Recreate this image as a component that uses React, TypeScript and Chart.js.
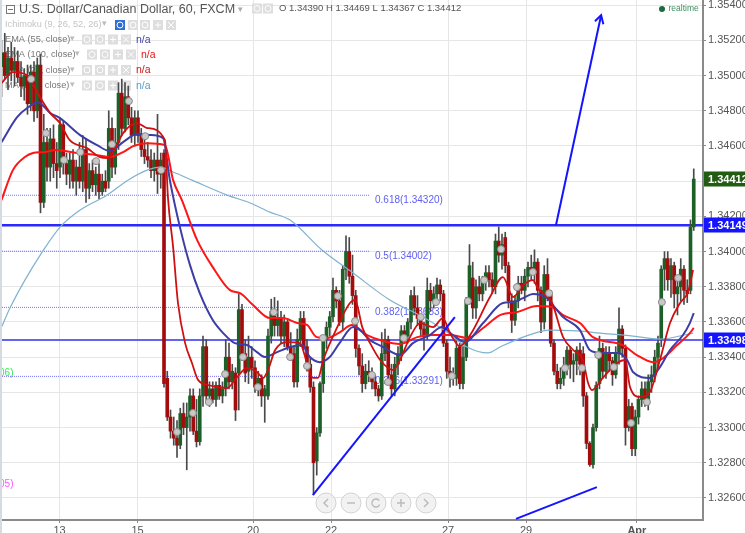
import React, { useEffect, useRef } from "react";
import { Chart, registerables } from "chart.js";

Chart.register(...registerables);

const opens = [
1.3505,1.3513,1.35,1.351,1.3503,1.3508,1.3499,1.3494,1.35,1.3484,1.3502,1.348,1.3506,1.3428,1.3462,1.3448,1.3464,1.345,1.3448,1.3472,
1.345,1.3444,1.3452,1.344,1.3448,1.344,1.3458,1.3436,1.3446,1.3438,1.3444,1.3434,1.344,1.344,1.347,1.3448,1.3462,1.349,1.347,1.3488,
1.3476,1.3466,1.3476,1.3466,1.3458,1.3454,1.3452,1.3446,1.3452,1.3444,1.3456,1.3328,1.3306,1.3298,1.3294,1.329,1.3308,1.33,1.3306,1.3318,
1.3298,1.3292,1.3318,1.3346,1.3318,1.3322,1.3316,1.3324,1.3318,1.3322,1.334,1.3326,1.3331,1.3331,1.3367,1.3342,1.3332,1.334,1.3334,1.3323,
1.3328,1.3318,1.3318,1.3352,1.3366,1.3358,1.3362,1.3352,1.336,1.3346,1.3342,1.3326,1.335,1.3362,1.3346,1.3336,1.3323,1.3281,1.3297,1.3325,
1.335,1.3357,1.3363,1.3378,1.3372,1.336,1.339,1.34,1.3386,1.3375,1.3345,1.3335,1.3325,1.3332,1.333,1.3326,1.3322,1.3318,1.3342,1.335,
1.333,1.3322,1.3336,1.3342,1.3355,1.3352,1.336,1.3375,1.3368,1.3362,1.3356,1.3352,1.3378,1.3372,1.3376,1.3381,1.3376,1.3348,1.3332,1.333,
1.3328,1.3346,1.3325,1.334,1.3372,1.3385,1.3368,1.338,1.3376,1.3384,1.3388,1.3384,1.338,1.3406,1.3398,1.3408,1.3392,1.3372,1.3361,1.3372,
1.3382,1.3378,1.3386,1.3391,1.3388,1.3394,1.3378,1.336,1.3387,1.3376,1.3348,1.3332,1.3325,1.3328,1.3335,1.3344,1.3336,1.3338,1.3344,1.3342,
1.3318,1.3291,1.3279,1.33,1.3325,1.3345,1.3332,1.3342,1.3338,1.333,1.3342,1.3356,1.3345,1.33,1.3312,1.3288,1.3306,1.3316,1.3322,1.3316,
1.3326,1.333,1.334,1.335,1.339,1.3396,1.3384,1.3392,1.3376,1.338,1.339,1.3378,1.3378,1.3414];
const highs = [
1.352,1.3524,1.3516,1.3519,1.3516,1.3514,1.3508,1.3504,1.3506,1.3506,1.3508,1.351,1.3512,1.3478,1.347,1.347,1.3472,1.3462,1.3476,1.3474,
1.3456,1.3456,1.3458,1.3452,1.3462,1.3466,1.3464,1.345,1.3452,1.3448,1.345,1.3444,1.3446,1.348,1.3476,1.347,1.3496,1.3498,1.3496,1.3494,
1.3482,1.348,1.348,1.347,1.3466,1.3462,1.3458,1.3456,1.3478,1.3456,1.3458,1.3332,1.331,1.3306,1.3304,1.3311,1.3314,1.3314,1.3322,1.3322,
1.3316,1.3322,1.3352,1.335,1.3326,1.3326,1.3326,1.3328,1.3326,1.335,1.3348,1.3336,1.3334,1.3376,1.337,1.335,1.3352,1.3346,1.3338,1.3332,
1.333,1.3324,1.3356,1.3373,1.3374,1.3372,1.3366,1.3364,1.3362,1.3354,1.3346,1.3356,1.3366,1.3366,1.335,1.334,1.3326,1.33,1.3326,1.3352,
1.336,1.3366,1.3385,1.338,1.3378,1.3392,1.3409,1.3408,1.3398,1.3378,1.3347,1.3342,1.3336,1.3338,1.3334,1.333,1.3324,1.3354,1.3356,1.3352,
1.3336,1.334,1.3346,1.3358,1.3358,1.3362,1.3378,1.338,1.3375,1.3364,1.336,1.3385,1.3382,1.338,1.3385,1.3384,1.3378,1.335,1.334,1.3334,
1.3352,1.3348,1.3346,1.3374,1.3404,1.3394,1.3384,1.3386,1.3386,1.3392,1.3392,1.3388,1.341,1.3414,1.341,1.3411,1.3394,1.3376,1.3375,1.3386,
1.3386,1.339,1.3394,1.3398,1.3401,1.3396,1.338,1.3392,1.3396,1.3378,1.335,1.3336,1.3334,1.334,1.3346,1.3346,1.3342,1.3346,1.3348,1.3346,
1.332,1.3292,1.3302,1.3326,1.3352,1.3348,1.3346,1.3346,1.334,1.3346,1.3368,1.3358,1.3347,1.3316,1.3314,1.331,1.3318,1.3326,1.3326,1.333,
1.3335,1.3344,1.3352,1.3392,1.34,1.34,1.3396,1.3394,1.3384,1.3396,1.3392,1.3384,1.3418,1.3447];
const lows = [
1.3488,1.3498,1.3492,1.3497,1.3494,1.3496,1.3488,1.3486,1.3478,1.348,1.3474,1.3476,1.3422,1.3425,1.344,1.344,1.3442,1.3436,1.3442,1.3444,
1.3438,1.3436,1.3436,1.3432,1.3436,1.3434,1.3428,1.343,1.3434,1.3432,1.343,1.3432,1.3434,1.3436,1.3442,1.3444,1.3458,1.3466,1.3468,1.3472,
1.3462,1.346,1.3462,1.3454,1.345,1.3448,1.3442,1.344,1.3433,1.3436,1.3323,1.3304,1.3294,1.329,1.3283,1.3288,1.3296,1.3276,1.3298,1.3296,
1.3289,1.329,1.3312,1.3314,1.3312,1.3314,1.3312,1.3316,1.3314,1.3318,1.3322,1.3322,1.3304,1.331,1.3338,1.3326,1.3325,1.3328,1.332,1.3318,
1.3312,1.3303,1.3316,1.3348,1.3352,1.3352,1.3348,1.3346,1.3344,1.3338,1.3323,1.3323,1.3346,1.3344,1.3332,1.332,1.3262,1.3273,1.3295,1.332,
1.3345,1.3352,1.336,1.3368,1.3358,1.3355,1.3384,1.3382,1.337,1.334,1.333,1.332,1.3322,1.3326,1.3322,1.3318,1.3315,1.3316,1.3338,1.3326,
1.3318,1.3318,1.333,1.3338,1.3348,1.3348,1.3356,1.3364,1.3358,1.3352,1.3344,1.335,1.3366,1.3368,1.337,1.3372,1.3346,1.3328,1.3323,1.3324,
1.3324,1.3322,1.3322,1.3338,1.337,1.3362,1.3362,1.3372,1.3372,1.3378,1.338,1.3376,1.3376,1.3394,1.339,1.3388,1.3368,1.3354,1.3358,1.3368,
1.3376,1.3372,1.338,1.3384,1.3382,1.3372,1.3354,1.3356,1.3372,1.3346,1.333,1.3322,1.3322,1.3324,1.333,1.3328,1.3326,1.333,1.333,1.3312,
1.3288,1.3278,1.3277,1.3298,1.3322,1.3328,1.3328,1.3332,1.3324,1.3328,1.3336,1.334,1.329,1.3298,1.3284,1.3284,1.3302,1.3312,1.3312,1.331,
1.332,1.3326,1.3334,1.3346,1.3378,1.3378,1.3374,1.3368,1.3364,1.3372,1.337,1.3371,1.3376,1.3412];
const closes = [
1.3513,1.35,1.351,1.3503,1.3508,1.3499,1.3494,1.35,1.3484,1.3502,1.348,1.3506,1.3428,1.3462,1.3448,1.3464,1.345,1.3446,1.3472,1.345,
1.3444,1.3452,1.344,1.3448,1.344,1.3458,1.3436,1.3446,1.3438,1.3444,1.3434,1.344,1.3436,1.347,1.3448,1.3462,1.349,1.347,1.3488,1.3476,
1.3466,1.3476,1.3466,1.3458,1.3454,1.3452,1.3446,1.3452,1.3444,1.3452,1.3325,1.3306,1.3298,1.3294,1.329,1.3308,1.33,1.3306,1.3318,1.3298,
1.3292,1.3318,1.3346,1.3318,1.3322,1.3316,1.3324,1.3318,1.3322,1.334,1.3326,1.3332,1.331,1.3367,1.3342,1.3331,1.334,1.3334,1.3323,1.3328,
1.3318,1.3322,1.3352,1.3366,1.3358,1.3362,1.3352,1.336,1.3346,1.3342,1.3326,1.335,1.3362,1.3346,1.3337,1.3323,1.328,1.3297,1.3325,1.335,
1.3357,1.3363,1.3378,1.3372,1.336,1.339,1.34,1.3386,1.3375,1.3345,1.3335,1.3325,1.3332,1.333,1.3326,1.3322,1.3318,1.3342,1.335,1.333,
1.3322,1.3336,1.3342,1.3355,1.3352,1.336,1.3375,1.3368,1.3362,1.3356,1.3352,1.3378,1.3372,1.3376,1.3381,1.3376,1.3348,1.3332,1.333,1.3328,
1.3345,1.3325,1.334,1.3372,1.3392,1.3368,1.338,1.3376,1.3384,1.3388,1.3384,1.338,1.3406,1.3398,1.3404,1.3392,1.3372,1.3361,1.3372,1.3382,
1.3378,1.3386,1.3391,1.3388,1.3394,1.3378,1.336,1.3387,1.3376,1.3348,1.3332,1.3325,1.3328,1.3335,1.3344,1.3336,1.3338,1.3344,1.3336,1.3318,
1.3291,1.3279,1.33,1.3324,1.3345,1.3332,1.3342,1.3338,1.333,1.3342,1.3356,1.3345,1.33,1.3312,1.3288,1.3306,1.3316,1.3322,1.3316,1.3326,
1.333,1.334,1.3348,1.339,1.3396,1.3384,1.3392,1.3376,1.338,1.339,1.3378,1.3376,1.3414,1.34412];

const ema21: number[][] = [[0,1.34957],[3.5,1.3502],[7.8,1.35003],[11.8,1.34878],[15,1.34787],[18,1.3473],[21,1.34633],[26.3,1.34588],[30.3,1.34537],[32.8,1.34531],[35,1.34588],[37.4,1.34673],[41.7,1.3473],[44.8,1.34702],[50.3,1.34633],[51.2,1.3431],[52.8,1.34026],[54.3,1.33708],[56.5,1.3348],[58.6,1.33367],[60.5,1.3327],[63.5,1.33242],[69.4,1.33225],[72.5,1.33287],[75.5,1.33338],[78.6,1.33316],[80.5,1.33282],[82,1.33327],[84.2,1.33441],[87.8,1.33486],[91.8,1.3348],[94,1.33367],[95.8,1.33282],[97.4,1.33282],[99,1.33384],[103.2,1.33566],[107.2,1.33708],[108.8,1.33725],[111,1.33571],[113.4,1.3348],[116.5,1.33384],[120.5,1.33327],[122.6,1.33384],[125.7,1.33514],[128.8,1.33594],[132.8,1.33571],[135.8,1.33622],[138,1.33537],[141,1.33463],[144.2,1.33526],[150.3,1.33742],[154.3,1.33855],[157.4,1.33742],[160.5,1.3381],[163.5,1.33838],[165,1.33793],[169.4,1.33708],[172.8,1.33514],[175.9,1.33441],[178.9,1.33384],[180.5,1.33253],[181.7,1.33213],[185,1.33282],[189.4,1.33367],[191.9,1.33384],[193.4,1.3323],[196.5,1.33174],[199.5,1.33202],[202.6,1.33384],[205.7,1.33594],[208.8,1.33708],[211.2,1.3377],[212.8,1.33895]];
const ema55: number[][] = [[0,1.34622],[4.8,1.34764],[8.2,1.3482],[11.2,1.34849],[15,1.34787],[18,1.34758],[24.2,1.34662],[29.4,1.34605],[33.4,1.34571],[37.4,1.34622],[41.7,1.34668],[45.7,1.34662],[49.7,1.34645],[51.8,1.34406],[54.9,1.34139],[58,1.33923],[61,1.33764],[65,1.33611],[68.2,1.33537],[71.8,1.3348],[75.5,1.33469],[78.6,1.33429],[81,1.33401],[84.8,1.33429],[88.8,1.33458],[92.5,1.33469],[94.9,1.33401],[98,1.33372],[101,1.33401],[104,1.3348],[108.2,1.33571],[110.3,1.33554],[113.4,1.33497],[117.4,1.33458],[122.6,1.33412],[126.6,1.3348],[131.8,1.33526],[135.5,1.33571],[138.9,1.33526],[142.6,1.33486],[148.2,1.33594],[154.3,1.33708],[157.4,1.33713],[160.5,1.33736],[163.5,1.33759],[167.9,1.33736],[169.7,1.33696],[172.8,1.33628],[178,1.33554],[181,1.33441],[184.8,1.33424],[189.7,1.33424],[192.5,1.33384],[194.3,1.33316],[199.6,1.33282],[202.6,1.33344],[205.7,1.33441],[209.7,1.33526],[211.8,1.33594],[213,1.33651]];
const ema100: number[][] = [[0,1.34293],[3.5,1.34463],[7.2,1.34537],[9.7,1.3456],[12.8,1.34565],[17,1.34577],[23.2,1.3456],[29.4,1.34548],[33.4,1.34537],[37.4,1.34565],[40.5,1.34599],[44.8,1.34616],[50.3,1.34605],[52.8,1.34406],[55.5,1.34293],[60.2,1.34065],[65,1.33912],[70.3,1.33781],[73.4,1.33764],[77.4,1.33696],[82.6,1.33622],[86.6,1.33622],[91,1.33594],[94,1.33583],[97,1.33514],[100.2,1.33509],[104.2,1.33543],[107.8,1.33583],[112.5,1.33526],[117.4,1.33492],[122.6,1.33475],[127.9,1.33514],[132.8,1.33526],[138,1.33526],[143.5,1.33509],[148.2,1.33566],[153.4,1.33639],[158.6,1.33656],[164.8,1.33691],[169.4,1.33685],[172.8,1.33639],[178,1.33594],[182,1.33514],[191.2,1.33469],[195.5,1.33412],[200.5,1.33372],[203.6,1.33395],[207.9,1.33469],[211.8,1.33537],[213,1.33566]];
const ma200: number[][] = [[0,1.33571],[2.6,1.33679],[7.2,1.33838],[12.5,1.33997],[18,1.34139],[24.2,1.34236],[32.5,1.34321],[38.9,1.34406],[44.8,1.34463],[48.8,1.3448],[52.8,1.34452],[58.6,1.34406],[69.4,1.34321],[76.5,1.34276],[82.6,1.34224],[88.8,1.34179],[98.6,1.34009],[108.2,1.33878],[119.5,1.33725],[129.7,1.33628],[137,1.33543],[143.2,1.33458],[149.7,1.33424],[153.4,1.33458],[160.5,1.33514],[168.8,1.33554],[177.2,1.33549],[184.2,1.33537],[194.3,1.3352],[202.6,1.33503],[212.8,1.33537]];
const pivots: number[][] = [[9.1,1.3498],[13.7,1.34673],[19.2,1.3452],[24.2,1.34565],[29.1,1.34514],[34,1.3461],[39.2,1.34855],[44.2,1.34656],[49.1,1.34463],[54,1.32975],[58.9,1.33083],[63.8,1.33145],[68.8,1.33304],[74.3,1.33401],[78.9,1.3323],[83.8,1.33656],[88.8,1.33401],[94,1.3335],[98.9,1.33509],[103.5,1.33747],[108.8,1.33605],[114,1.33299],[118.9,1.33259],[123.8,1.33509],[129,1.33628],[133.7,1.33713],[138.6,1.33293],[143.5,1.33719],[148.5,1.33838],[153.7,1.34014],[158.6,1.33798],[163.5,1.33884],[168.5,1.33764],[173.4,1.33338],[178.6,1.33338],[183.6,1.33412],[188.4,1.33344],[193.7,1.33026],[198.6,1.33145],[203.2,1.33713],[208.2,1.3385]];

const trendUp: number[][] = [[95.8,1.32617],[139.5,1.33628]];
const trendLow: number[][] = [[158.3,1.32481],[183.2,1.32662]];
const arrowShaft: number[][] = [[170.6,1.3415],[184.5,1.35343]];
const arrowHead: number[][] = [[182.6,1.35309],[184.5,1.35343],[185.2,1.35292]];

const fibLevels = [1.3432, 1.34002, 1.33683, 1.33291];
const fibLabels = ["0.618(1.34320)", "0.5(1.34002)", "0.382(1.33683)", "0.236(1.33291)"];
const fibEndIndex = 113.4;
const resistance = 1.34149;
const support = 1.33498;
const lastPrice = 1.34412;

const priceTicks = [1.326,1.328,1.33,1.332,1.334,1.336,1.338,1.34,1.342,1.344,1.346,1.348,1.35,1.352,1.354];
const dateTickIndex = [17.85,41.85,77.4,101.4,137.4,161.4,195.5];
const dateTickLabels = ["13","15","20","22","27","29","Apr"];

const FONT = '"Liberation Sans", Arial, sans-serif';
const UP = "#1c5f27";
const DOWN = "#a30c0c";

const pts = (a: number[][]) => a.map(([x, y]) => ({ x, y }));
const hline = (y: number, end: number) => [{ x: 0.15, y }, { x: end, y }];

function App() {
  const ref = useRef<HTMLCanvasElement>(null);
  useEffect(() => {
    const text = (c: any, s: string, x: number, y: number, font: string, color: string, align: any = "left") => {
      c.font = font;
      c.fillStyle = color;
      c.textAlign = align;
      c.textBaseline = "middle";
      c.fillText(s, x, y);
    };
    const button = (c: any, x: number, y: number, kind: number, bg = "#dedede") => {
      c.fillStyle = bg;
      c.fillRect(x, y, 10, 10);
      c.strokeStyle = "#fff";
      c.fillStyle = "#fff";
      c.lineWidth = 1;
      const cx = x + 5, cy = y + 5;
      c.beginPath();
      if (kind === 0 || kind === 1) {
        c.arc(cx, cy, 3, 0, Math.PI * 2);
      } else if (kind === 2) {
        c.moveTo(cx - 3, cy); c.lineTo(cx + 3, cy); c.moveTo(cx, cy - 3); c.lineTo(cx, cy + 3);
      } else {
        c.moveTo(cx - 3, cy - 3); c.lineTo(cx + 3, cy + 3); c.moveTo(cx + 3, cy - 3); c.lineTo(cx - 3, cy + 3);
      }
      c.stroke();
    };
    const underlay = {
      id: "underlay",
      beforeDatasetsDraw(ch: any) {
        const c = ch.ctx;
        const y = ch.scales.y;
        c.save();
        c.fillStyle = "#d6dbe2";
        c.fillRect(0, 0, 2, 533);
        c.strokeStyle = "#777";
        c.lineWidth = 1;
        c.strokeRect(6.5, 5.5, 8, 8);
        c.beginPath(); c.moveTo(8, 9.5); c.lineTo(13, 9.5); c.stroke();
        text(c, "U.S. Dollar/Canadian Dollar, 60, FXCM", 19, 10, `12.5px ${FONT}`, "#555");
        text(c, "▾", 238, 10, `9px ${FONT}`, "#aaa");
        [252, 263].forEach((x, i) => button(c, x, 3.5, i));
        text(c, "O 1.34390 H 1.34469 L 1.34367 C 1.34412", 279, 8.5, `9.5px ${FONT}`, "#555");

        text(c, "Ichimoku (9, 26, 52, 26)", 5, 24.5, `9.2px ${FONT}`, "#c4c4c4");
        text(c, "▾", 102, 24, `9px ${FONT}`, "#bbb");
        button(c, 115, 20, 0, "#2e6fd6");
        [128, 140, 153, 166].forEach((x, i) => button(c, x, 20, i === 3 ? 3 : i === 2 ? 2 : 1));

        const rows = [
          { name: "EMA (55, close)", y: 39.5, arrow: 70, btn: 82, na: 136, color: "#3f3fa8" },
          { name: "EMA (100, close)", y: 54.5, arrow: 75, btn: 87, na: 141, color: "#f01010" },
          { name: "EMA (21, close)", y: 70, arrow: 70, btn: 82, na: 136, color: "#d01515" },
          { name: "MA (200, close)", y: 85.5, arrow: 70, btn: 82, na: 136, color: "#5b9bc4" },
        ];
        rows.forEach((r) => {
          text(c, r.name, 5, r.y, `9.2px ${FONT}`, "#777");
          text(c, "▾", r.arrow, r.y - 0.5, `9px ${FONT}`, "#bbb");
          [0, 13, 26, 39].forEach((dx, i) => button(c, r.btn + dx, r.y - 5, i));
          text(c, "n/a", r.na, r.y + 0.5, `10.5px ${FONT}`, r.color);
        });

        fibLevels.forEach((lv, i) => {
          text(c, fibLabels[i], 375, y.getPixelForValue(lv) + 5, `10px ${FONT}`, "#5f5ff5");
        });
        c.save();
        c.beginPath();
        c.rect(2, 0, 100, 533);
        c.clip();
        text(c, "0.786(1.33006)", 13.5, 373.5, `10px ${FONT}`, "#33ee55", "right");
        text(c, "1(1.32605)", 13.5, 484.5, `10px ${FONT}`, "#ff55ff", "right");
        c.restore();
        c.restore();
      },
    };
    const overlay = {
      id: "overlay",
      afterDraw(ch: any) {
        const c = ch.ctx;
        const y = ch.scales.y;
        c.save();
        [
          { v: lastPrice, bg: "#225c12", ts: lastPrice },
          { v: resistance, bg: "#1414ff", ts: resistance },
          { v: support, bg: "#1414ff", ts: support },
        ].forEach((t) => {
          const py = Math.round(y.getPixelForValue(t.v));
          c.fillStyle = t.bg;
          c.fillRect(704, py - 7.5, 41, 15);
          text(c, t.ts.toFixed(5), 708, py + 0.5, `bold 11px ${FONT}`, "#fff");
        });
        c.fillStyle = "#1c6b3c";
        c.beginPath(); c.arc(662, 9, 3, 0, Math.PI * 2); c.fill();
        text(c, "realtime", 668.5, 9, `8.5px ${FONT}`, "#3f8f63");

        [326, 351, 376, 401, 426].forEach((cx, i) => {
          const cy = 503;
          c.beginPath();
          c.arc(cx, cy, 10, 0, Math.PI * 2);
          c.fillStyle = "rgba(238,238,238,0.75)";
          c.fill();
          c.strokeStyle = "#d2d2d2";
          c.lineWidth = 1;
          c.stroke();
          c.strokeStyle = "#bcbcbc";
          c.lineWidth = 1.5;
          c.beginPath();
          if (i === 0) { c.moveTo(cx + 2, cy - 4); c.lineTo(cx - 2, cy); c.lineTo(cx + 2, cy + 4); }
          if (i === 1) { c.moveTo(cx - 4, cy); c.lineTo(cx + 4, cy); }
          if (i === 2) { c.arc(cx, cy, 4, 0.4, Math.PI * 1.8); }
          if (i === 3) { c.moveTo(cx - 4, cy); c.lineTo(cx + 4, cy); c.moveTo(cx, cy - 4); c.lineTo(cx, cy + 4); }
          if (i === 4) { c.moveTo(cx - 2, cy - 4); c.lineTo(cx + 2, cy); c.lineTo(cx - 2, cy + 4); }
          c.stroke();
        });
        c.restore();
      },
    };

    const curve = (data: number[][], color: string, width: number, order: number) => ({
      type: "line" as const,
      data: pts(data),
      borderColor: color,
      borderWidth: width,
      pointRadius: 0,
      cubicInterpolationMode: "monotone",
      fill: false,
      order,
    });
    const straight = (data: any[], color: string, width: number, order: number, dash: number[] = []) => ({
      type: "line" as const,
      data,
      borderColor: color,
      borderWidth: width,
      borderDash: dash,
      pointRadius: 0,
      tension: 0,
      fill: false,
      order,
    });
    const noMargins = (s: any) => {
      s.paddingLeft = s.paddingRight = s.paddingTop = s.paddingBottom = 0;
      if (s._margins) s._margins = { left: 0, right: 0, top: 0, bottom: 0 };
    };

    const chart = new Chart(ref.current as HTMLCanvasElement, {
      type: "bar",
      data: {
        datasets: [
          ...fibLevels.map((lv) => straight(hline(lv, fibEndIndex), "rgba(70,70,245,0.75)", 1, 20, [1, 1])),
          straight(hline(resistance, 215.85), "#2a2aff", 2.5, 19),
          straight(hline(support, 215.85), "#3030ee", 1.5, 19),
          {
            type: "bar" as const,
            data: highs.map((h, i) => ({ x: i, y: [lows[i], h] })),
            backgroundColor: "#4a4a4a",
            barThickness: 1,
            grouped: false,
            order: 10,
          },
          {
            type: "bar" as const,
            data: opens.map((o, i) => ({ x: i, y: [Math.min(o, closes[i]), Math.max(o, closes[i])] })),
            backgroundColor: opens.map((o, i) => (closes[i] >= o ? UP : DOWN)),
            barThickness: 3,
            grouped: false,
            order: 9,
          },
          curve(ma200, "#7fb2cf", 1.2, 6),
          curve(ema100, "#ff1515", 2, 5),
          curve(ema55, "#3d3da6", 2, 4),
          curve(ema21, "#d01010", 1.8, 3),
          straight(pts(trendUp), "#1414ff", 2, 2),
          straight(pts(trendLow), "#1414ff", 2, 2),
          straight(pts(arrowShaft), "#1414ff", 2, 2),
          straight(pts(arrowHead), "#1414ff", 2, 2),
          {
            type: "line" as const,
            data: pts(pivots),
            showLine: false,
            pointRadius: 3.5,
            pointBackgroundColor: "#c8c8c8",
            pointBorderColor: "#8a8a8a",
            pointBorderWidth: 1,
            order: 1,
          },
        ] as any,
      },
      options: {
        animation: false,
        responsive: false,
        devicePixelRatio: 1,
        events: [],
        layout: { autoPadding: false, padding: { left: 2, top: 0, right: 0, bottom: 0 } },
        plugins: { legend: { display: false }, tooltip: { enabled: false } },
        scales: {
          x: {
            type: "linear",
            offset: false,
            min: 0.15,
            max: 215.85,
            afterFit: (s: any) => { s.height = 13; noMargins(s); },
            afterBuildTicks: (s: any) => { s.ticks = dateTickIndex.map((value) => ({ value })); },
            grid: { color: "#e6e6e6", offset: false, tickLength: 3, tickColor: "#888" },
            border: { color: "#8a8a8a", width: 2 },
            ticks: {
              autoSkip: false,
              maxRotation: 0,
              padding: 1,
              color: "#555",
              font: (ctx: any) => ({
                family: FONT,
                size: 11,
                weight: ctx.tick && ctx.tick.value === 195.5 ? "bold" : "normal",
              }),
              callback: (v: any) => dateTickLabels[dateTickIndex.indexOf(v)] ?? "",
            },
          },
          y: {
            position: "right",
            min: 1.32475,
            max: 1.354295,
            afterFit: (s: any) => { s.width = 42; noMargins(s); },
            afterBuildTicks: (s: any) => { s.ticks = priceTicks.map((value) => ({ value })); },
            grid: { color: "#e6e6e6", tickLength: 3, tickColor: "#888" },
            border: { color: "#8a8a8a", width: 2 },
            ticks: {
              padding: 2,
              color: "#555",
              font: { family: FONT, size: 11 },
              callback: (v: any) => Number(v).toFixed(5),
            },
          },
        },
      } as any,
      plugins: [underlay, overlay],
    });
    return () => chart.destroy();
  }, []);
  return (
    <div style={{ position: "absolute", left: 0, top: 0, width: 745, height: 533, background: "#fff", overflow: "hidden" }}>
      <canvas ref={ref} width={745} height={533} style={{ display: "block" }} />
    </div>
  );
}

export default App;
